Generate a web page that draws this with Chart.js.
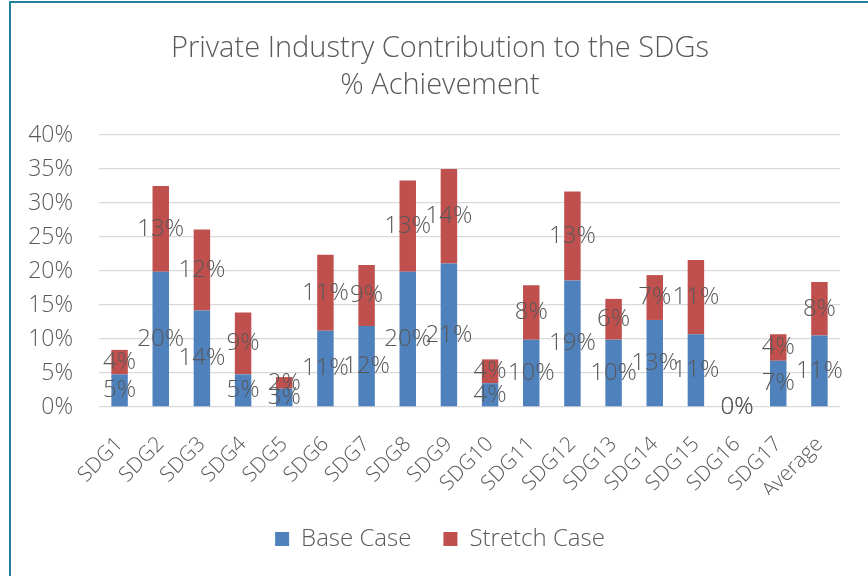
<!DOCTYPE html>
<html><head><meta charset="utf-8">
<script src="https://cdn.jsdelivr.net/npm/chart.js@4.4.1/dist/chart.umd.min.js"></script>
<style>
html,body{margin:0;padding:0;background:#fff;overflow:hidden}
#wrap{position:relative;width:868px;height:576px;overflow:hidden}
#c{position:absolute;left:0;top:0}
#frame{position:absolute;left:9px;top:1px;width:900px;height:600px;border-left:2px solid #237F9A;border-top:2px solid #237F9A;pointer-events:none}
</style></head><body>
<div id="wrap"><canvas id="c" width="880" height="576"></canvas><div id="frame"></div></div>
<script>
const categories = ['SDG1','SDG2','SDG3','SDG4','SDG5','SDG6','SDG7','SDG8','SDG9','SDG10','SDG11','SDG12','SDG13','SDG14','SDG15','SDG16','SDG17','Average'];
const baseCase = [4.8,19.9,14.2,4.8,2.7,11.2,11.9,19.9,21.1,3.5,9.9,18.6,9.9,12.8,10.7,0,6.8,10.5];
const stretchCase = [3.6,12.6,11.9,9.1,1.7,11.2,9.0,13.4,13.9,3.5,8.0,13.1,6.0,6.6,10.9,0,3.9,7.9];
const seriesNames = ['Base Case','Stretch Case'];
const titleLines = ['Private Industry Contribution to the SDGs','% Achievement'];
const yMin = 0, yMax = 40, yStep = 5;

const FONT = '"Open Sans", "Noto Sans", sans-serif';
const TXT = '#595959';

const barLabels = {
  id: 'barLabels',
  afterDatasetsDraw(chart) {
    const ctx = chart.ctx;
    ctx.save();
    ctx.font = '300 24px ' + FONT;
    ctx.fillStyle = TXT;
    ctx.textAlign = 'center';
    ctx.textBaseline = 'middle';
    chart.data.datasets.forEach((ds, di) => {
      const meta = chart.getDatasetMeta(di);
      meta.data.forEach((bar, i) => {
        const p = bar.getProps(['x', 'y', 'base'], true);
        ctx.fillText(Math.round(ds.data[i]) + '%', p.x, (p.y + p.base) / 2);
      });
    });
    ctx.restore();
  }
};

new Chart(document.getElementById('c'), {
  type: 'bar',
  data: {
    labels: categories,
    datasets: [
      { label: seriesNames[0], data: baseCase, backgroundColor: '#4F81BD', barPercentage: 0.4, categoryPercentage: 1, yAxisID: 'y' },
      { label: seriesNames[1], data: stretchCase, backgroundColor: '#C0504D', barPercentage: 0.4, categoryPercentage: 1, yAxisID: 'y' }
    ]
  },
  options: {
    responsive: false,
    animation: false,
    layout: { padding: { left: 0, right: 0, top: 0, bottom: 15 } },
    plugins: {
      title: {
        display: true,
        text: titleLines,
        color: TXT,
        font: { family: FONT, size: 29, weight: '300', lineHeight: 1.25 },
        padding: { top: 31, bottom: 31.5 }
      },
      legend: {
        position: 'bottom',
        labels: {
          boxWidth: 14, boxHeight: 14, padding: 32,
          color: TXT,
          font: { family: FONT, size: 24, weight: '300' }
        }
      },
      tooltip: { enabled: false }
    },
    scales: {
      x: {
        stacked: true,
        grid: { display: false, drawTicks: false },
        border: { display: false },
        ticks: { minRotation: 45, maxRotation: 45, color: TXT, padding: 25, font: { family: FONT, size: 21, weight: '300' } },
        afterFit(s) { s.height = 88; }
      },
      y: {
        stacked: true,
        min: yMin, max: yMax,
        grid: { color: '#D9D9D9', lineWidth: 1.3, drawTicks: false },
        border: { display: false },
        ticks: { stepSize: yStep, padding: 26, color: TXT, font: { family: FONT, size: 23, weight: '300' }, callback: v => v + '%' },
        afterFit(s) { s.width = 99; }
      },
      yRight: {
        position: 'right',
        display: true,
        grid: { display: false, drawTicks: false },
        border: { display: false },
        ticks: { display: false },
        afterFit(s) { s.width = 40; }
      }
    }
  },
  plugins: [barLabels]
});
</script>
</body></html>
